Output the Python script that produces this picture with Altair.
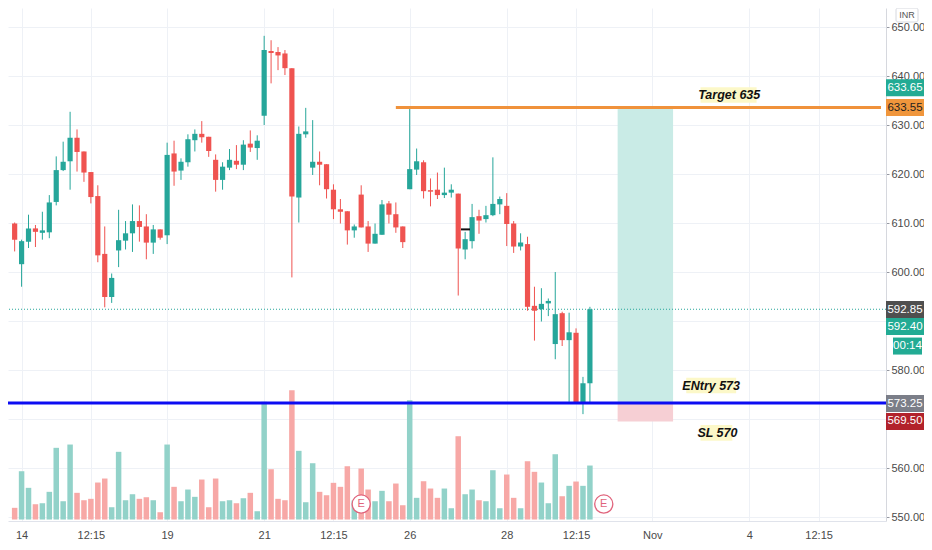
import altair as alt
import pandas as pd

# ---------------- data ----------------
opens = [609.9, 601.6, 606.2, 608.9, 608.0, 608.1, 614.3, 620.8, 622.6, 627.4,
         624.6, 620.4, 615.5, 603.7, 594.9, 604.4, 606.4, 607.9, 610.4, 609.3,
         606.0, 608.7, 607.5, 624.2, 620.7, 622.4, 626.9, 628.2, 627.6, 622.9,
         618.8, 621.3, 622.7, 621.9, 626.2, 625.3, 631.9, 645.1, 644.9, 644.6,
         641.6, 615.2, 628.1, 621.3, 622.5, 622.0, 616.8, 612.8, 612.4, 608.5,
         615.8, 609.3, 605.8, 607.6, 614.0, 611.8, 609.3, 616.9, 620.9, 622.4,
         616.7, 616.8, 615.7, 616.2, 616.0, 604.6, 606.3, 611.4, 610.8, 611.6,
         613.8, 613.5, 609.9, 605.2, 605.7, 593.1, 592.4, 593.6, 585.3, 591.6,
         586.1, 587.6, 573.2, 577.3]
highs = [610.1, 606.6, 611.7, 609.6, 612.3, 615.7, 623.6, 626.6, 632.7, 629.1,
         624.6, 620.4, 617.7, 609.3, 599.7, 612.7, 610.4, 613.8, 613.6, 611.8,
         609.6, 608.7, 626.4, 626.8, 623.2, 628.1, 629.1, 630.8, 627.6, 624.0,
         622.4, 625.1, 625.9, 626.9, 628.9, 627.9, 648.2, 647.3, 645.9, 645.3,
         641.6, 629.7, 633.5, 631.0, 624.6, 622.0, 617.9, 614.9, 612.4, 609.7,
         617.7, 610.4, 609.9, 614.7, 614.5, 614.2, 609.3, 633.4, 625.2, 622.8,
         619.1, 620.3, 621.3, 617.9, 616.0, 608.2, 613.9, 612.7, 613.5, 623.4,
         615.4, 616.1, 610.4, 607.9, 607.2, 597.0, 596.7, 594.6, 600.0, 591.9,
         591.7, 588.5, 578.6, 592.9]
lows = [604.2, 597.0, 604.9, 605.1, 606.6, 606.9, 613.6, 620.6, 616.8, 620.5,
        618.4, 614.0, 602.0, 592.8, 593.7, 601.0, 604.6, 604.1, 606.2, 602.6,
        603.7, 606.6, 605.7, 617.6, 618.8, 621.5, 624.6, 626.4, 623.5, 616.4,
        616.8, 620.8, 621.0, 620.8, 624.5, 622.9, 630.0, 638.5, 641.2, 640.2,
        598.9, 610.1, 627.4, 619.8, 617.7, 615.0, 610.8, 609.9, 605.6, 607.0,
        609.1, 604.1, 605.8, 607.6, 609.9, 608.0, 604.9, 616.9, 619.8, 615.0,
        613.4, 614.9, 615.1, 615.2, 595.2, 602.6, 604.8, 607.8, 610.1, 611.4,
        611.8, 605.3, 603.9, 604.4, 592.1, 586.0, 589.9, 591.0, 582.2, 584.9,
        573.5, 573.2, 571.0, 573.2]
closes = [606.6, 606.3, 608.9, 608.2, 608.5, 614.2, 620.8, 622.5, 627.4, 624.5,
          620.3, 615.3, 603.4, 594.9, 598.8, 606.5, 607.9, 610.4, 609.2, 606.0,
          608.7, 607.0, 623.9, 620.5, 622.5, 627.1, 628.2, 627.5, 624.7, 618.8,
          621.5, 622.9, 621.9, 626.0, 625.4, 626.8, 645.3, 644.7, 644.2, 641.6,
          615.4, 628.2, 628.7, 622.5, 621.9, 616.9, 612.8, 612.3, 608.5, 609.3,
          609.1, 605.8, 607.8, 613.8, 611.7, 609.1, 606.1, 621.0, 622.6, 616.5,
          616.4, 615.7, 616.2, 616.8, 604.8, 606.7, 611.2, 610.5, 611.6, 613.9,
          614.9, 609.8, 605.2, 606.0, 592.9, 592.1, 593.5, 594.1, 591.4, 586.1,
          587.7, 573.2, 577.3, 592.4]
volumes = [117, 483, 317, 153, 163, 277, 717, 183, 750, 267,
           193, 207, 370, 410, 123, 677, 193, 253, 207, 223,
           193, 73, 750, 327, 183, 300, 227, 400, 123, 410,
           183, 193, 163, 213, 267, 83, 1177, 503, 207, 193,
           1293, 687, 173, 563, 277, 243, 367, 327, 533, 190,
           510, 300, 183, 287, 183, 360, 143, 1193, 217, 383,
           310, 217, 310, 113, 833, 253, 300, 193, 183, 493,
           113, 450, 217, 113, 583, 477, 370, 163, 653, 233,
           337, 380, 337, 540]

time_ticks = [1, 11, 22, 36, 46, 57, 71, 81, 92, 106, 116]
time_labels = ["14", "12:15", "19", "21", "12:15", "26", "28", "12:15", "Nov", "4", "12:15"]
price_ticks = [550, 560, 570, 580, 590, 600, 610, 620, 630, 640, 650]
price_ticks_hidden = [570, 590]   # covered by price tags in the picture

entry_price = 573.25
target_price = 633.55
stop_price = 569.50
last_price = 592.40
target_line_start = 55
position_start, position_end = 87, 95

marker_price = 608.7            # small black drawn segment
marker_from, marker_to = 64.4, 65.7

earnings_idx = [50, 85]
earnings_price = [552.65, 552.65]

note_texts = ["Target 635", "ENtry 573", "SL 570"]
note_idx = [103.1, 100.5, 101.4]
note_price = [636.1, 576.8, 567.2]
note_bg_x0 = [98.96, 96.9, 98.96]
note_bg_x1 = [107.05, 104.1, 103.55]
note_bg_y0 = [637.7, 578.4, 568.78]
note_bg_y1 = [634.55, 575.24, 565.57]

tag_values = [633.65, 633.55, 592.85, 592.40, 592.40, 573.25, 569.50]
tag_texts = ["633.65", "633.55", "592.85", "592.40", "00:14", "573.25", "569.50"]

# ---------------- styling ----------------
UP, DOWN = "#26a69a", "#ef5350"
VUP, VDOWN = "#92d2c9", "#f7a8a6"
tag_bg = ["#22ab94", "#f0963c", "#4f4f4f", "#22ab94", "#22ab94", "#7b7e88", "#b2222b"]
tag_fg = ["white", "#1f1f1f", "white", "white", "white", "white", "white"]
tag_shift = [-19.5, 0, 2.5, 17.3, 36.8, 0.5, 0]
tag_x = [[878, 916], [878, 916], [878, 916], [878, 916], [885, 914], [878, 916], [878, 916]]

W, H = 878, 513
VOL_BASE = 549.49      # price level where the volume pane's baseline sits
VOL_PER_PRICE = 49.0   # volume units per price unit in the overlay pane

x_scale = alt.Scale(domain=[-0.238, 125.0], nice=False, zero=False)
y_scale = alt.Scale(domain=[549.19, 653.88], nice=False, zero=False)

label_expr = "".join(f"datum.value == {p} ? '{l}' : " for p, l in zip(time_ticks, time_labels)) + "''"
y_label_expr = ("(" + " || ".join(f"datum.value == {p}" for p in price_ticks_hidden)
                + ") ? '' : format(datum.value, '.2f')")

x_axis = alt.Axis(values=time_ticks, labelExpr=label_expr, grid=True, gridColor="#eef1f6",
                  ticks=False, domainColor="#e0e3eb", labelColor="#4a4a4a",
                  labelFontSize=11, labelPadding=8, title=None, labelFlush=False,
                  labelOverlap=False)
y_axis = alt.Axis(orient="right", values=price_ticks, labelExpr=y_label_expr, grid=True,
                  gridColor="#eef1f6", tickSize=3, tickColor="#9598a1",
                  domainColor="#d6d8de", labelColor="#4a4a4a", labelFontSize=11,
                  labelPadding=2, title=None, labelFlush=False, labelOverlap=False)

df = pd.DataFrame({"i": list(range(len(opens))), "open": opens, "high": highs,
                   "low": lows, "close": closes, "volume": volumes})
df["color"] = [UP if c >= o else DOWN for o, c in zip(opens, closes)]
df["vcolor"] = [VUP if c >= o else VDOWN for o, c in zip(opens, closes)]


def X(field):
    return alt.X(f"{field}:Q", scale=x_scale)


def Y(field):
    return alt.Y(f"{field}:Q", scale=y_scale)


vol = alt.Chart(df).transform_calculate(
    vtop=f"{VOL_BASE} + datum.volume / {VOL_PER_PRICE}", vbase=f"{VOL_BASE}"
).mark_bar(size=5.5).encode(
    x=alt.X("i:Q", scale=x_scale, axis=x_axis),
    y=alt.Y("vtop:Q", scale=y_scale, axis=y_axis),
    y2="vbase:Q",
    color=alt.Color("vcolor:N", scale=None),
)

box_df = pd.DataFrame({
    "x0": [position_start, position_start], "x1": [position_end, position_end],
    "y0": [entry_price, entry_price], "y1": [target_price, stop_price],
    "c": ["#c9ebe6", "#f6cfd4"],
})
boxes = alt.Chart(box_df).mark_rect().encode(
    x=X("x0"), x2="x1", y=Y("y0"), y2="y1", color=alt.Color("c:N", scale=None))

dotted = alt.Chart(pd.DataFrame({"p": [last_price]})).mark_rule(
    strokeDash=[1, 2], strokeWidth=1, color=UP).encode(y=Y("p"))

blue = alt.Chart(pd.DataFrame({"p": [entry_price]})).mark_rule(
    strokeWidth=3, color="#0c0cf2").encode(y=Y("p"))

orange = alt.Chart(pd.DataFrame({"p": [target_price], "x0": [target_line_start], "x1": [125.0]})).mark_rule(
    strokeWidth=3, color="#f0923b").encode(x=X("x0"), x2="x1", y=Y("p"))

wicks = alt.Chart(df).mark_rule(strokeWidth=1).encode(
    x=X("i"), y=Y("low"), y2="high", color=alt.Color("color:N", scale=None))
bodies = alt.Chart(df).mark_bar(size=5.2).encode(
    x=X("i"), y=Y("open"), y2="close", color=alt.Color("color:N", scale=None))

black_seg = alt.Chart(pd.DataFrame({"p": [marker_price], "x0": [marker_from], "x1": [marker_to]})).mark_rule(
    strokeWidth=2, color="#111111").encode(x=X("x0"), x2="x1", y=Y("p"))

e_df = pd.DataFrame({"i": earnings_idx, "p": earnings_price, "t": ["E", "E"]})
e_circ = alt.Chart(e_df).mark_point(shape="circle", filled=False, fill="white", fillOpacity=1,
                                     size=330, stroke="#e0647c", strokeWidth=1.3, opacity=1).encode(
    x=X("i"), y=Y("p"))
e_txt = alt.Chart(e_df).mark_text(font="Liberation Sans", fontSize=11, color="#e0647c").encode(
    x=X("i"), y=Y("p"), text="t:N")

notes = pd.DataFrame({"t": note_texts, "i": note_idx, "p": note_price,
                      "x0": note_bg_x0, "x1": note_bg_x1, "y0": note_bg_y0, "y1": note_bg_y1})
note_bg = alt.Chart(notes).mark_rect(color="#fcf8c8").encode(x=X("x0"), x2="x1", y=Y("y0"), y2="y1")
note_txt = alt.Chart(notes).mark_text(font="Liberation Sans Narrow, Arial Narrow, Liberation Sans",
                                      fontSize=12.5, fontWeight="bold",
                                      fontStyle="italic", color="#111111").encode(
    x=X("i"), y=Y("p"), text="t:N")

tag_layers = []
for v, t, bg, fg, sh, (xa, xb) in zip(tag_values, tag_texts, tag_bg, tag_fg, tag_shift, tag_x):
    tdf = pd.DataFrame({"p": [v], "t": [t]})
    tag_layers.append(alt.Chart(tdf).mark_rect(color=bg, yOffset=sh - 8.5, y2Offset=sh + 8.5).encode(
        x=alt.value(xa), x2=alt.value(xb), y=Y("p"), y2="p"))
    tag_layers.append(alt.Chart(tdf).mark_text(color=fg, font="Liberation Sans", fontSize=11.5,
                                               align="center", baseline="middle", yOffset=sh).encode(
        x=alt.value((xa + xb) / 2), y=Y("p"), text="t:N"))

inr_df = pd.DataFrame({"t": ["INR"]})
inr_box = alt.Chart(inr_df).mark_rect(fill="white", stroke="#d6d8de", strokeWidth=1, cornerRadius=2).encode(
    x=alt.value(888), x2=alt.value(910), y=alt.value(0), y2=alt.value(14))
inr_txt = alt.Chart(inr_df).mark_text(font="Liberation Sans", fontSize=9, color="#555555").encode(
    x=alt.value(899), y=alt.value(7), text="t:N")

chart = alt.layer(vol, boxes, dotted, wicks, bodies, black_seg, blue, orange, e_circ, e_txt,
                  note_bg, note_txt, *tag_layers, inr_box, inr_txt).properties(
    width=W, height=H, autosize="none",
    padding={"left": 0, "top": 0, "right": 38, "bottom": 21},
).configure(font="Liberation Sans", background="white").configure_view(strokeWidth=0)

chart.save("out.html", embed_options={"renderer": "svg", "actions": False})
